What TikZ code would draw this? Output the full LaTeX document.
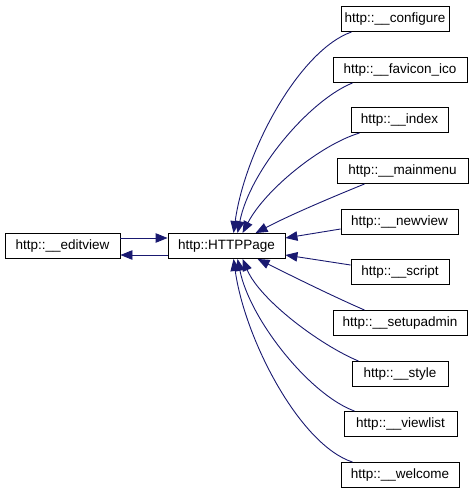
\documentclass[tikz,border=0pt]{standalone}
\usepackage{fontspec}
\setmainfont{Liberation Sans}
\usetikzlibrary{arrows.meta,calc}
\definecolor{edgec}{HTML}{191970}
\tikzset{
  box/.style={draw=black, line width=0.9pt, fill=white, minimum height=25pt, inner sep=0pt,
              font=\fontsize{13.5}{15}\selectfont},
  dep/.style={draw=edgec, line width=0.9pt, -{Triangle[length=12pt,width=9.5pt]}, fill=none}
}
\begin{document}
\begin{tikzpicture}[x=1pt,y=-1pt]
\useasboundingbox (0,0) rectangle (472,493);
\node[box, minimum width=115pt] (edit) at (62.5,246) {http::\_\_editview};
\node[box, minimum width=117pt] (page) at (226.5,246) {http::HTTPPage};
\node[box, minimum width=108pt] (conf) at (395,19) {http::\_\_configure};
\node[box, minimum width=134pt] (fav) at (400,70) {http::\_\_favicon\_ico};
\node[box, minimum width=97pt] (idx) at (399.5,120) {http::\_\_index};
\node[box, minimum width=131pt] (menu) at (402.5,171) {http::\_\_mainmenu};
\node[box, minimum width=117pt] (newv) at (399.5,222) {http::\_\_newview};
\node[box, minimum width=98pt] (scr) at (400,272) {http::\_\_script};
\node[box, minimum width=134pt] (setup) at (400,323) {http::\_\_setupadmin};
\node[box, minimum width=96pt] (sty) at (400,374) {http::\_\_style};
\node[box, minimum width=113pt] (vlist) at (400.5,424) {http::\_\_viewlist};
\node[box, minimum width=118pt] (welc) at (400,475) {http::\_\_welcome};

\draw[dep] ($(edit.east)+(0,-8)$) -- ($(page.west)+(0,-8)$);
\draw[dep] ($(page.west)+(0,9)$) -- ($(edit.east)+(0,9)$);

\draw[dep] ($(conf.south west)+(11,0)$) .. controls (300,50) and (245,150) .. ($(page.north west)+(66,0)$);
\draw[dep] ($(fav.south west)+(20,0)$) .. controls (310,100) and (250,170) .. ($(page.north west)+(70,0)$);
\draw[dep] ($(idx.south west)+(9,0)$) .. controls (320,145) and (265,190) .. ($(page.north west)+(75,0)$);
\draw[dep] ($(menu.south west)+(28,0)$) .. controls (330,198) and (290,215) .. ($(page.north west)+(88,0)$);
\draw[dep] ($(newv.west)+(0,7)$) -- ($(page.east)+(0,-8)$);
\draw[dep] ($(scr.west)+(0,-7)$) -- ($(page.east)+(0,9)$);
\draw[dep] ($(setup.north west)+(32,0)$) .. controls (330,295) and (290,275) .. ($(page.south west)+(90,0)$);
\draw[dep] ($(sty.north west)+(7,0)$) .. controls (320,345) and (260,300) .. ($(page.south west)+(75,0)$);
\draw[dep] ($(vlist.north west)+(11,0)$) .. controls (310,395) and (250,320) .. ($(page.south west)+(70,0)$);
\draw[dep] ($(welc.north west)+(12,0)$) .. controls (300,445) and (245,340) .. ($(page.south west)+(66,0)$);
\end{tikzpicture}
\end{document}
